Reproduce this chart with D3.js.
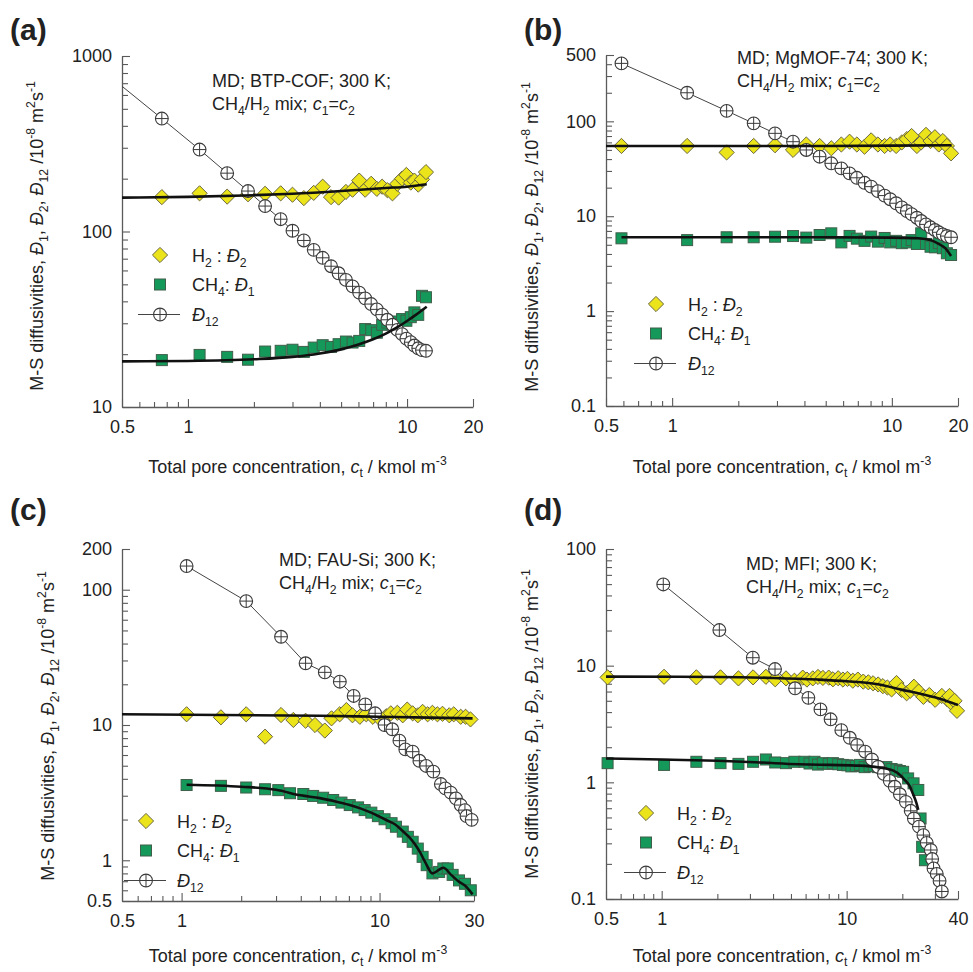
<!DOCTYPE html>
<html><head><meta charset="utf-8">
<script src="https://cdn.jsdelivr.net/npm/d3@7"></script>
<style>
body{margin:0;background:#fff}
svg{display:block}
text{font-family:"Liberation Sans",Arial,Helvetica,sans-serif;fill:#222}
</style>
</head><body>
<svg id="c" width="973" height="972"></svg>
<script>
// ---------------- DATA ----------------
// Panel (a): BTP-COF
const ctA   = [0.375, 0.76, 1.13, 1.51, 1.88, 2.25, 2.65, 3.0, 3.38, 3.75, 4.12, 4.5, 4.87, 5.26, 5.64, 6.05, 6.44, 6.86, 7.28, 7.7, 8.13, 8.58, 9.03, 9.49, 9.93, 10.4, 10.8, 11.25, 11.7, 12.2];
const d2A   = [null, 157, 165, 158, 163, 164, 165, 162, 155, 166, 180, 157, 156, 168, 173, 195, 173, 187, 175, 180, 172, 165, 187, 200, 210, 190, 195, 185, 198, 218];
const d1A   = [null, 18.5, 19.8, 19.3, 18.6, 20.7, 20.9, 21.2, 20.6, 21.8, 22.5, 22.0, 22.8, 23.6, 23.3, 23.8, 27.8, 27.4, 26.5, 29.4, 30.3, 29.5, 30.7, 31.7, 31.0, 32.5, 34.6, 33.5, 43, 42.2];
const d12A  = [900, 440, 293, 215, 170, 139.6, 117.5, 101, 88.9, 78.6, 70.8, 63.4, 57.8, 53, 48.7, 44.8, 41.6, 38.6, 36, 33.6, 31.4, 29.4, 27.5, 26, 24.5, 23.4, 22.4, 21.6, 21.1, 20.9];
const fitD2CtA = [0.5, 1, 2, 3, 5, 8, 10, 12.3];
const fitD2A   = [156, 157.5, 161, 164, 170, 177, 180, 186];
const fitD1CtA = [0.5, 1, 2, 3, 4, 5, 6, 7, 8, 9, 10, 11, 12.3];
const fitD1A   = [18.2, 18.3, 18.7, 19.3, 20.2, 21.3, 22.7, 24.3, 26.2, 28.4, 30.9, 33.6, 37.3];

// Panel (b): MgMOF-74
const ctB   = [0.588, 1.17, 1.77, 2.35, 2.94, 3.55, 4.08, 4.69, 5.3, 5.89, 6.42, 6.93, 7.51, 8.05, 8.64, 9.27, 9.83, 10.46, 11.1, 11.7, 12.3, 13.0, 13.6, 14.3, 15.0, 15.7, 16.35, 17.06, 17.8, 18.6];
const d2B   = [55, 55, 47, 55, 56, 50, 57, 55, 52, 57, 61, 57, 54, 63, 57, 55, 57, 55, 60, 65, 70, 55, 60, 72, 62, 68, 57, 62, 55, 46];
const d1B   = [5.85, 5.6, 6.0, 6.0, 6.08, 6.18, 5.95, 6.34, 6.6, 5.3, 6.2, 5.8, 5.5, 6.1, 5.4, 5.9, 5.3, 5.5, 5.2, 5.3, 5.6, 5.1, 6.6, 5.1, 4.77, 4.7, 5.2, 4.6, 4.07, 3.9];
const d12B  = [408, 200, 129, 95.2, 74.7, 61, 49.9, 42.4, 36.1, 31.9, 28.3, 25.4, 22.5, 20.5, 18.4, 16.5, 15.1, 13.7, 12.4, 11.35, 10.5, 9.64, 8.9, 8.2, 7.64, 7.16, 6.77, 6.44, 6.18, 6.0];
const fitD2CtB = [0.5, 5, 10, 18.7];
const fitD2B   = [55, 55, 55.5, 56];
const fitD1CtB = [0.588, 2, 5, 10, 13.2, 15, 16.1, 17.5, 18.6];
const fitD1B   = [6.0, 6.0, 6.0, 5.95, 5.85, 5.6, 5.2, 4.6, 3.8];

// Panel (c): FAU-Si
const d12CtC = [1.06, 2.12, 3.18, 4.23, 5.29, 6.3, 7.4, 8.47, 9.5, 10.6, 11.6, 12.6, 13.5, 14.7, 15.9, 17.2, 18.7, 20.4, 21.5, 22.9, 24.3, 25.7, 27.0, 27.5, 29.2];
const d12C   = [149.6, 82.4, 44.9, 28.6, 24.5, 20.9, 16.4, 14.2, 12.2, 10.0, 9.3, 7.66, 6.6, 6.35, 5.44, 4.98, 4.52, 3.66, 3.4, 3.16, 2.87, 2.56, 2.35, 2.12, 1.99];
const d2CtC  = [1.06, 1.58, 2.12, 2.64, 3.18, 3.67, 4.23, 4.72, 5.29, 5.72, 6.29, 6.8, 7.3, 7.95, 8.57, 9.25, 10.0, 10.8, 11.4, 12.3, 13.1, 13.8, 14.7, 15.6, 16.5, 17.5, 18.5, 19.6, 20.8, 22.5, 23.7, 25.7, 27.2, 28.8];
const d2C    = [12.0, 11.4, 12.0, 8.2, 11.85, 10.9, 10.75, 10.0, 9.1, 11.2, 12.0, 12.9, 11.8, 11.5, 12.0, 11.5, 11.2, 11.6, 12.2, 12.3, 11.8, 13.0, 12.2, 11.8, 12.5, 12.0, 12.3, 12.0, 12.1, 11.8, 12.0, 11.5, 11.5, 11.0];
const d1CtC  = [1.06, 1.58, 2.12, 2.64, 3.08, 3.53, 4.12, 4.62, 5.19, 5.83, 6.42, 7.07, 7.79, 8.41, 9.09, 9.81, 10.6, 11.5, 12.1, 13.1, 13.9, 14.7, 15.6, 16.5, 17.3, 18.5, 20.0, 21.0, 22.1, 23.4, 25.2, 27.0, 28.9];
const d1C    = [3.6, 3.55, 3.45, 3.35, 3.3, 3.13, 3.09, 2.99, 2.9, 2.79, 2.67, 2.56, 2.46, 2.35, 2.25, 2.12, 2.01, 1.88, 1.77, 1.63, 1.49, 1.37, 1.22, 1.06, 0.92, 0.80, 0.82, 0.87, 0.87, 0.78, 0.71, 0.67, 0.60];
const fitD2CtC = [0.5, 5, 10, 29.5];
const fitD2C   = [12.0, 11.7, 11.5, 11.2];
const fitD1CtC = [1.06, 2, 3, 4, 5, 6, 7, 8, 9, 10, 11, 12, 13, 14, 15, 16, 17, 18.5, 21, 23, 25, 27, 29.5];
const fitD1C   = [3.62, 3.5, 3.32, 3.02, 2.88, 2.72, 2.57, 2.42, 2.26, 2.1, 1.96, 1.84, 1.66, 1.5, 1.33, 1.15, 0.97, 0.80, 0.88, 0.78, 0.70, 0.65, 0.56];

// Panel (d): MFI
const d12CtD = [1.02, 2.05, 3.11, 4.1, 5.26, 6.21, 7.22, 8.19, 9.36, 10.4, 11.4, 12.6, 13.7, 14.8, 15.9, 17.1, 18.2, 19.4, 20.9, 22.2, 23.1, 24.6, 26.0, 27.1, 28.5, 29.0, 29.5, 30.7, 31.8, 32.7];
const d12D   = [49.7, 20.2, 11.7, 9.35, 6.4, 5.3, 4.22, 3.47, 2.8, 2.41, 2.09, 1.83, 1.57, 1.36, 1.18, 1.03, 0.916, 0.79, 0.68, 0.57, 0.49, 0.417, 0.353, 0.303, 0.263, 0.22, 0.183, 0.164, 0.143, 0.116];
const d2CtD  = [0.51, 1.03, 1.54, 2.08, 2.6, 3.12, 3.66, 4.11, 4.7, 5.22, 5.79, 6.1, 6.56, 7.0, 7.44, 8.0, 8.43, 9.0, 9.55, 10.1, 10.8, 11.5, 12.3, 13.1, 13.9, 14.8, 15.7, 16.6, 17.5, 18.6, 19.8, 21.1, 22.1, 23.1, 24.5, 26.0, 28.0, 30.1, 32.7, 34.8, 36.0, 37.1, 38.3, 39.5];
const d2D    = [7.94, 8.03, 7.94, 7.94, 7.78, 7.94, 8.03, 7.64, 7.78, 7.43, 7.9, 7.6, 7.78, 8.0, 7.85, 7.9, 7.64, 7.8, 7.6, 7.7, 7.43, 7.6, 7.3, 7.2, 7.06, 6.9, 6.67, 6.5, 6.26, 7.1, 6.2, 5.8, 6.1, 6.6, 6.0, 5.4, 5.6, 5.1, 5.5, 5.2, 5.5, 4.73, 5.0, 4.1];
const d1CtD  = [0.51, 1.03, 1.54, 2.08, 2.6, 3.12, 3.66, 4.11, 4.7, 5.22, 5.91, 6.3, 6.7, 7.0, 7.44, 8.0, 8.43, 9.0, 9.55, 10.1, 10.6, 11.2, 11.8, 12.5, 13.3, 14.0, 14.8, 15.6, 16.4, 17.5, 18.6, 19.4, 20.2, 21.5, 23.0, 24.4, 25.1, 25.6, 26.5];
const d1D    = [1.46, 1.41, 1.5, 1.46, 1.44, 1.5, 1.57, 1.48, 1.46, 1.5, 1.5, 1.45, 1.5, 1.42, 1.46, 1.44, 1.46, 1.43, 1.41, 1.4, 1.37, 1.38, 1.41, 1.35, 1.37, 1.38, 1.35, 1.33, 1.35, 1.3, 1.28, 1.25, 1.23, 1.08, 0.98, 0.86, 0.49, 0.28, 0.215];
const fitD2CtD = [0.5, 2, 4, 7, 10, 15, 20, 25, 30, 35, 40];
const fitD2D   = [8.05, 8.0, 7.85, 7.6, 7.35, 6.9, 6.2, 5.75, 5.35, 4.95, 4.6];
const fitD1CtD = [0.5, 1, 2, 3.4, 5.5, 8, 11.8, 15, 17.9, 19.5, 20.6, 22, 22.8, 23.8, 24.4];
const fitD1D   = [1.6, 1.57, 1.53, 1.48, 1.43, 1.41, 1.39, 1.34, 1.26, 1.15, 1.05, 0.92, 0.8, 0.67, 0.58];

// Tick labels
const xTicksAB = [0.5, 1, 10, 20];  const xLabelsAB = ['0.5', '1', '10', '20'];
const xTicksC  = [0.5, 1, 10, 30];  const xLabelsC  = ['0.5', '1', '10', '30'];
const xTicksD  = [0.5, 1, 10, 40];  const xLabelsD  = ['0.5', '1', '10', '40'];
const yTicksA  = [10, 100, 1000];   const yLabelsA  = ['10', '100', '1000'];
const yTicksB  = [0.1, 1, 10, 100, 500]; const yLabelsB = ['0.1', '1', '10', '100', '500'];
const yTicksC  = [0.5, 1, 10, 100, 200]; const yLabelsC = ['0.5', '1', '10', '100', '200'];
const yTicksD  = [0.1, 1, 10, 100]; const yLabelsD  = ['0.1', '1', '10', '100'];

const annotA = 'MD; BTP-COF; 300 K;';
const annotB = 'MD; MgMOF-74; 300 K;';
const annotC = 'MD; FAU-Si; 300 K;';
const annotD = 'MD; MFI; 300 K;';
const panelLabels = ['(a)', '(b)', '(c)', '(d)'];

// ---------------- DRAWING ----------------
const svg = d3.select('#c');
const FS = 18;
const YELLOW = '#ece41a', YSTROKE = '#6a6640';
const GREEN = '#14995a', GSTROKE = '#3f5f4a';

function zip(xs, ys) { return xs.map((v, i) => [v, ys[i]]).filter(d => d[1] != null); }

function rich(textSel, parts, fs, subShift) {
  let off = 0;
  const ss = subShift == null ? 0.3 : subShift;
  parts.forEach(p => {
    const t = typeof p === 'string' ? {t: p} : p;
    let target = 0, size = fs;
    if (t.sub) { target = fs * ss; size = fs * 0.68; }
    if (t.sup) { target = -fs * 0.42; size = fs * 0.68; }
    const ts = textSel.append('tspan').text(t.t).attr('font-size', size);
    if (target - off !== 0) ts.attr('dy', target - off);
    if (t.i) ts.attr('font-style', 'italic');
    off = target;
  });
}

const DIAMOND = 'M0,-7.6L7.6,0L0,7.6L-7.6,0Z';
function drawDiamonds(g, pts) {
  g.selectAll(null).data(pts).join('path')
    .attr('transform', d => `translate(${d[0]},${d[1]})`)
    .attr('d', DIAMOND).attr('fill', YELLOW).attr('stroke', YSTROKE).attr('stroke-width', 1);
}
function drawSquares(g, pts) {
  g.selectAll(null).data(pts).join('rect')
    .attr('x', d => d[0] - 5.5).attr('y', d => d[1] - 5.5).attr('width', 11).attr('height', 11)
    .attr('fill', GREEN).attr('stroke', GSTROKE).attr('stroke-width', 1);
}
function drawCircles(g, pts) {
  const r = 6.4;
  const cg = g.selectAll(null).data(pts).join('g').attr('transform', d => `translate(${d[0]},${d[1]})`);
  cg.append('circle').attr('r', r).attr('fill', '#fff').attr('stroke', '#3a3a3a').attr('stroke-width', 1.1);
  cg.append('path').attr('d', `M${-r},0H${r}M0,${-r}V${r}`).attr('stroke', '#3a3a3a').attr('stroke-width', 1);
}

function minorTicks(dom) {
  const out = [];
  for (let e = -3; e <= 4; e++) for (let k = 1; k <= 9; k++) {
    const v = +(k * Math.pow(10, e)).toPrecision(6);
    if (v >= dom[0] * 0.9999 && v <= dom[1] * 1.0001) out.push(v);
  }
  return out;
}

const panels = [
  {L:122, R:473, T:56, B:407, xDom:[0.5,20], yDom:[10,1000], xT:xTicksAB, xL:xLabelsAB, yT:yTicksA, yL:yLabelsA,
   d2:zip(ctA,d2A), d1:zip(ctA,d1A), d12:zip(ctA,d12A), f2:zip(fitD2CtA,fitD2A), f1:zip(fitD1CtA,fitD1A),
   annot:annotA, annotPos:[212,87], leg:[160,255,192], lab:[10,40], yTitle:[43,236], xTitleY:473, label:panelLabels[0]},
  {L:606, R:958, T:55, B:406, xDom:[0.5,20], yDom:[0.1,500], xT:xTicksAB, xL:xLabelsAB, yT:yTicksB, yL:yLabelsB,
   d2:zip(ctB,d2B), d1:zip(ctB,d1B), d12:zip(ctB,d12B), f2:zip(fitD2CtB,fitD2B), f1:zip(fitD1CtB,fitD1B),
   annot:annotB, annotPos:[737,64], leg:[656,304,688], lab:[524,40], yTitle:[538,237], xTitleY:473, label:panelLabels[1]},
  {L:122, R:474, T:549, B:901, xDom:[0.5,30], yDom:[0.5,200], xT:xTicksC, xL:xLabelsC, yT:yTicksC, yL:yLabelsC,
   d2:zip(d2CtC,d2C), d1:zip(d1CtC,d1C), d12:zip(d12CtC,d12C), f2:zip(fitD2CtC,fitD2C), f1:zip(fitD1CtC,fitD1C),
   annot:annotC, annotPos:[279,566], leg:[146,821,177], lab:[10,520], yTitle:[54,726], xTitleY:962, label:panelLabels[2]},
  {L:606, R:958, T:549, B:899, xDom:[0.5,40], yDom:[0.1,100], xT:xTicksD, xL:xLabelsD, yT:yTicksD, yL:yLabelsD,
   d2:zip(d2CtD,d2D), d1:zip(d1CtD,d1D), d12:zip(d12CtD,d12D), f2:zip(fitD2CtD,fitD2D), f1:zip(fitD1CtD,fitD1D),
   annot:annotD, annotPos:[746,570], leg:[646,813,677], lab:[524,520], yTitle:[538,724], xTitleY:962, label:panelLabels[3]}
];

panels.forEach((P, pi) => {
  const g = svg.append('g');
  const x = d3.scaleLog().domain(P.xDom).range([P.L, P.R]);
  const y = d3.scaleLog().domain(P.yDom).range([P.B, P.T]);
  const clipId = 'clip' + pi;
  svg.append('defs').append('clipPath').attr('id', clipId)
    .append('rect').attr('x', P.L).attr('y', P.T).attr('width', P.R - P.L).attr('height', P.B - P.T);

  // axes: minor ticks
  const xMin = minorTicks(P.xDom).filter(v => !P.xT.includes(v));
  const yMin = minorTicks(P.yDom).filter(v => !P.yT.includes(v));
  const axCol = '#5a5a5a';
  const gxm = g.append('g').attr('transform', `translate(0,${P.B})`).attr('color', axCol)
    .call(d3.axisBottom(x).tickValues(xMin).tickSize(-5).tickSizeOuter(0).tickFormat(''));
  gxm.select('.domain').remove();
  const gym = g.append('g').attr('transform', `translate(${P.L},0)`).attr('color', axCol)
    .call(d3.axisLeft(y).tickValues(yMin).tickSize(-6).tickSizeOuter(0).tickFormat(''));
  gym.select('.domain').remove();
  // major ticks + labels
  const gx = g.append('g').attr('transform', `translate(0,${P.B})`).attr('color', axCol)
    .call(d3.axisBottom(x).tickValues(P.xT).tickSize(-8).tickSizeOuter(0).tickPadding(13)
      .tickFormat((d, i) => P.xL[i]));
  const gy = g.append('g').attr('transform', `translate(${P.L},0)`).attr('color', axCol)
    .call(d3.axisLeft(y).tickValues(P.yT).tickSize(-8).tickSizeOuter(0).tickPadding(10)
      .tickFormat((d, i) => P.yL[i]));
  [gx, gy, gxm, gym].forEach(a => a.selectAll('line').attr('stroke-width', 1.1));
  [gx, gy].forEach(a => {
    a.select('.domain').attr('stroke-width', 1.3);
    a.selectAll('text').attr('font-size', FS).style('fill', '#222');
  });

  // data
  const px = d => [x(d[0]), y(d[1])];
  const inDom = d => d[0] >= P.xDom[0] && d[0] <= P.xDom[1];
  drawDiamonds(g.append('g'), P.d2.filter(inDom).map(px));
  drawSquares(g.append('g'), P.d1.filter(inDom).map(px));
  const line = d3.line().x(d => x(d[0])).y(d => y(d[1]));
  g.append('path').attr('clip-path', `url(#${clipId})`).attr('d', line(P.d12))
    .attr('fill', 'none').attr('stroke', '#444').attr('stroke-width', 1);
  drawCircles(g.append('g'), P.d12.filter(inDom).map(px));
  const fitLine = d3.line().x(d => x(d[0])).y(d => y(d[1])).curve(d3.curveMonotoneX);
  [P.f2, P.f1].forEach(f => {
    g.append('path').attr('clip-path', `url(#${clipId})`).attr('d', fitLine(f))
      .attr('fill', 'none').attr('stroke', '#111').attr('stroke-width', 2.6).attr('stroke-linejoin', 'round');
  });

  // legend
  const [lx, ly, tx] = P.leg;
  const lg = g.append('g');
  drawDiamonds(lg, [[lx, ly]]);
  drawSquares(lg, [[lx, ly + 29.5]]);
  lg.append('line').attr('x1', lx - 22).attr('x2', lx + 20).attr('y1', ly + 59.5).attr('y2', ly + 59.5)
    .attr('stroke', '#444').attr('stroke-width', 1);
  drawCircles(lg, [[lx, ly + 59.5]]);
  rich(lg.append('text').attr('x', tx).attr('y', ly + 6.5),
    ['H', {t:'2', sub:true}, ' : ', {t:'Đ', i:true}, {t:'2', sub:true}], FS);
  rich(lg.append('text').attr('x', tx).attr('y', ly + 36),
    ['CH', {t:'4', sub:true}, ': ', {t:'Đ', i:true}, {t:'1', sub:true}], FS);
  rich(lg.append('text').attr('x', tx).attr('y', ly + 66),
    [{t:'Đ', i:true}, {t:'12', sub:true}], FS);

  // annotation
  const [ax, ay] = P.annotPos;
  g.append('text').attr('x', ax).attr('y', ay).attr('font-size', FS).text(P.annot);
  rich(g.append('text').attr('x', ax).attr('y', ay + 22.5),
    ['CH', {t:'4', sub:true}, '/H', {t:'2', sub:true}, ' mix; ', {t:'c', i:true}, {t:'1', sub:true}, '=', {t:'c', i:true}, {t:'2', sub:true}], FS);

  // axis titles
  rich(g.append('text').attr('x', (P.L + P.R) / 2).attr('y', P.xTitleY).attr('text-anchor', 'middle'),
    ['Total pore concentration, ', {t:'c', i:true}, {t:'t', sub:true}, ' / kmol m', {t:'-3', sup:true}], FS, 0.2);
  rich(g.append('text').attr('text-anchor', 'middle')
      .attr('transform', `translate(${P.yTitle[0]},${P.yTitle[1]}) rotate(-90)`),
    ['M-S diffusivities, ', {t:'Đ', i:true}, {t:'1', sub:true}, ', ', {t:'Đ', i:true}, {t:'2', sub:true}, ', ',
     {t:'Đ', i:true}, {t:'12', sub:true}, ' /10', {t:'-8', sup:true}, ' m', {t:'2', sup:true}, 's', {t:'-1', sup:true}], FS);

  // panel label
  g.append('text').attr('x', P.lab[0]).attr('y', P.lab[1]).attr('font-size', 30).attr('font-weight', 'bold')
    .text(P.label);
});
</script>
</body></html>
